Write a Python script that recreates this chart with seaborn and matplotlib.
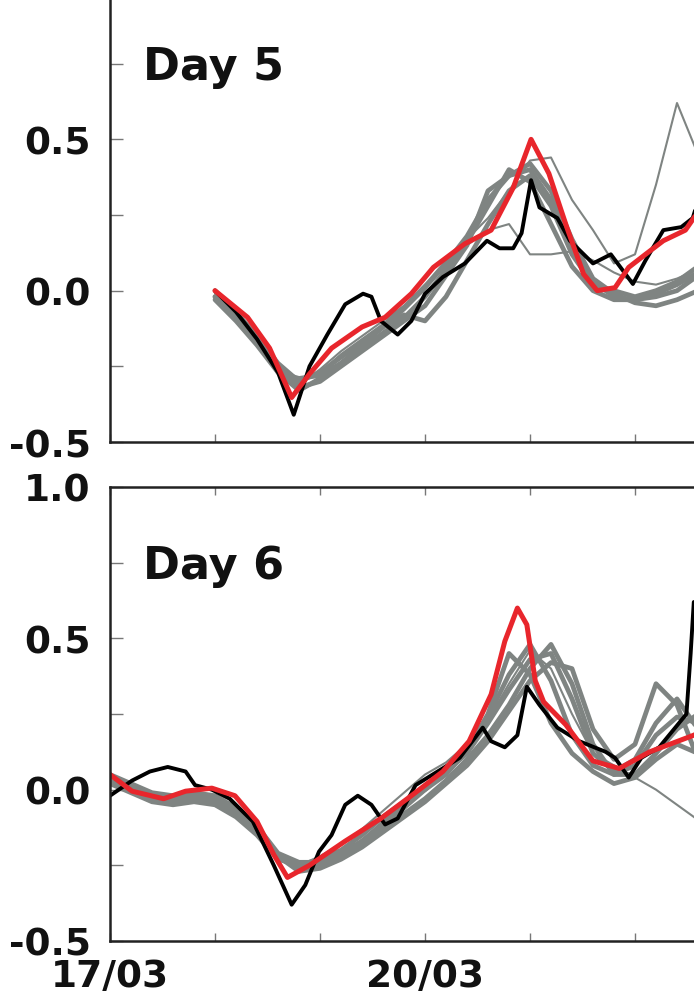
import numpy as np
import pandas as pd
import matplotlib
matplotlib.use("Agg")
import matplotlib.pyplot as plt
import seaborn as sns

# ---------------- data (x = days since 17/03 00:00) ----------------
xtick_pos = [0, 3]
xtick_labels = ["17/03", "20/03"]
ytick_vals = [-0.5, 0.0, 0.5, 1.0]
ytick_labels_top = ["-0.5", "0.0", "0.5", ""]
ytick_labels_bottom = ["-0.5", "0.0", "0.5", "1.0"]
panel_labels = ["Day 5", "Day 6"]

# ---- Day 5 panel ----
d5_grid = [1.0, 1.2, 1.4, 1.6, 1.8, 2.0, 2.2, 2.4, 2.6, 2.8, 3.0, 3.2,
           3.4, 3.6, 3.8, 4.0, 4.2, 4.4, 4.6, 4.8, 5.0, 5.2, 5.4, 5.6]
d5_ens_a = [0.0, -0.07, -0.15, -0.24, -0.30, -0.27, -0.22, -0.17, -0.12, -0.06, 0.01, 0.09,
            0.18, 0.30, 0.38, 0.40, 0.30, 0.15, 0.03, -0.02, -0.03, -0.02, 0.0, 0.05]
d5_ens_b = [-0.02, -0.09, -0.17, -0.26, -0.32, -0.30, -0.25, -0.20, -0.15, -0.10, -0.05, 0.05,
            0.15, 0.33, 0.38, 0.42, 0.33, 0.17, 0.04, -0.01, -0.04, -0.05, -0.03, 0.0]
d5_ens_c = [-0.03, -0.10, -0.18, -0.27, -0.29, -0.28, -0.24, -0.18, -0.12, -0.08, -0.10, -0.02,
            0.10, 0.22, 0.33, 0.38, 0.28, 0.12, 0.02, 0.0, -0.02, 0.0, 0.03, 0.08]
d5_ens_d = [-0.02, -0.08, -0.16, -0.27, -0.33, -0.29, -0.24, -0.19, -0.14, -0.09, -0.02, 0.07,
            0.16, 0.28, 0.40, 0.36, 0.22, 0.08, 0.0, -0.03, -0.03, -0.01, 0.02, 0.06]
d5_ens_e = [-0.01, -0.08, -0.16, -0.25, -0.31, -0.26, -0.20, -0.15, -0.10, -0.05, 0.02, 0.10,
            0.17, 0.24, 0.33, 0.43, 0.44, 0.30, 0.20, 0.09, 0.12, 0.35, 0.62, 0.45]
d5_ens_f = [0.0, -0.08, -0.16, -0.25, -0.30, -0.27, -0.21, -0.16, -0.11, -0.05, 0.02, 0.08,
            0.15, 0.20, 0.22, 0.12, 0.12, 0.13, 0.10, 0.06, 0.03, 0.02, 0.04, 0.07]
d5_red_x = [1.0, 1.31, 1.52, 1.73, 1.9, 2.11, 2.4, 2.62, 2.87, 3.08, 3.38, 3.63,
            3.84, 4.01, 4.18, 4.35, 4.51, 4.64, 4.81, 4.94, 5.10, 5.27, 5.48, 5.62]
d5_red_y = [0.0, -0.088, -0.19, -0.353, -0.275, -0.19, -0.12, -0.088, -0.01, 0.077, 0.155, 0.2,
            0.34, 0.5, 0.387, 0.21, 0.055, 0.0, 0.01, 0.077, 0.12, 0.165, 0.2, 0.27]
d5_obs_x = [1.0, 1.2, 1.4, 1.6, 1.75, 1.9, 2.07, 2.24, 2.41, 2.49, 2.58, 2.74, 2.87, 3.0,
            3.17, 3.38, 3.59, 3.71, 3.84, 3.92, 4.01, 4.09, 4.26, 4.38, 4.6, 4.77, 4.98,
            5.1, 5.27, 5.44, 5.55, 5.62]
d5_obs_y = [0.0, -0.07, -0.16, -0.27, -0.41, -0.25, -0.145, -0.045, -0.01, -0.02, -0.1, -0.145,
            -0.1, -0.01, 0.045, 0.09, 0.165, 0.14, 0.14, 0.19, 0.365, 0.275, 0.24, 0.165, 0.09,
            0.12, 0.022, 0.1, 0.2, 0.21, 0.24, 0.32]

# ---- Day 6 panel ----
d6_grid = [0.0, 0.2, 0.4, 0.6, 0.8, 1.0, 1.2, 1.4, 1.6, 1.8, 2.0, 2.2, 2.4, 2.6, 2.8,
           3.0, 3.2, 3.4, 3.6, 3.8, 4.0, 4.2, 4.4, 4.6, 4.8, 5.0, 5.2, 5.4, 5.6]
d6_ens_a = [0.03, 0.0, -0.03, -0.03, -0.01, -0.02, -0.06, -0.12, -0.21, -0.24, -0.24, -0.21, -0.17, -0.12, -0.06,
            0.0, 0.06, 0.12, 0.22, 0.33, 0.43, 0.45, 0.30, 0.12, 0.06, 0.10, 0.22, 0.30, 0.20]
d6_ens_b = [0.04, 0.01, -0.02, -0.04, -0.03, -0.04, -0.08, -0.14, -0.22, -0.26, -0.25, -0.22, -0.18, -0.13, -0.08,
            -0.03, 0.03, 0.10, 0.18, 0.28, 0.40, 0.48, 0.35, 0.15, 0.05, 0.05, 0.12, 0.20, 0.25]
d6_ens_c = [0.02, -0.01, -0.04, -0.05, -0.04, -0.05, -0.09, -0.15, -0.23, -0.25, -0.23, -0.20, -0.15, -0.09, -0.04,
            0.0, 0.05, 0.13, 0.25, 0.45, 0.38, 0.22, 0.12, 0.06, 0.02, 0.04, 0.10, 0.15, 0.12]
d6_ens_d = [0.05, 0.02, -0.01, -0.02, -0.02, -0.03, -0.07, -0.13, -0.22, -0.27, -0.26, -0.23, -0.19, -0.14, -0.09,
            -0.04, 0.02, 0.08, 0.16, 0.26, 0.36, 0.42, 0.40, 0.20, 0.10, 0.15, 0.35, 0.28, 0.10]
d6_ens_e = [0.03, 0.0, -0.03, -0.04, -0.03, -0.04, -0.08, -0.14, -0.22, -0.25, -0.22, -0.18, -0.13, -0.07, -0.01,
            0.05, 0.09, 0.15, 0.23, 0.35, 0.46, 0.40, 0.25, 0.12, 0.08, 0.04, 0.0, -0.05, -0.10]
d6_ens_f = [0.04, 0.01, -0.02, -0.03, -0.02, -0.03, -0.07, -0.13, -0.22, -0.26, -0.25, -0.22, -0.17, -0.11, -0.05,
            0.01, 0.07, 0.14, 0.24, 0.38, 0.48, 0.36, 0.18, 0.08, 0.05, 0.08, 0.18, 0.24, 0.22]
d6_red_x = [0.0, 0.21, 0.51, 0.72, 0.97, 1.19, 1.40, 1.56, 1.69, 1.90, 2.24, 2.58, 2.87, 3.17,
            3.42, 3.63, 3.76, 3.88, 3.97, 4.05, 4.13, 4.34, 4.60, 4.85, 5.14, 5.56, 5.62]
d6_red_y = [0.05, -0.005, -0.03, -0.005, 0.005, -0.02, -0.105, -0.215, -0.29, -0.25, -0.17, -0.095, -0.02, 0.06,
            0.16, 0.315, 0.49, 0.60, 0.545, 0.36, 0.29, 0.215, 0.095, 0.07, 0.125, 0.18, 0.19]
d6_obs_x = [0.0, 0.21, 0.38, 0.55, 0.72, 0.81, 0.97, 1.14, 1.36, 1.56, 1.73, 1.86, 1.99, 2.11,
            2.24, 2.36, 2.49, 2.62, 2.74, 2.91, 3.12, 3.33, 3.55, 3.63, 3.76, 3.88, 3.97, 4.09,
            4.26, 4.47, 4.72, 4.81, 4.94, 5.06, 5.23, 5.49, 5.53, 5.56]
d6_obs_y = [-0.02, 0.03, 0.06, 0.075, 0.06, 0.015, 0.0, -0.03, -0.105, -0.25, -0.38, -0.315, -0.205, -0.15,
            -0.05, -0.02, -0.05, -0.115, -0.095, 0.015, 0.06, 0.105, 0.205, 0.16, 0.14, 0.18, 0.34, 0.28,
            0.205, 0.16, 0.125, 0.105, 0.04, 0.105, 0.14, 0.25, 0.45, 0.62]

# ---------------- style ----------------
sns.set_theme(style="white")
plt.rcParams["font.family"] = ["DejaVu Sans"]
plt.rcParams["font.weight"] = "bold"
plt.rcParams["axes.unicode_minus"] = False

RED = "#e8262c"
GRAY = "#7f8482"
FS_LABEL = 32
FS_TICK = 27

W, H = 694, 995
fig = plt.figure(figsize=(W / 100, H / 100), dpi=100)
fig.patch.set_facecolor("white")
ax_left = 110 / W
ax_w = 735 / W
ax_h = 454 / H
ax1 = fig.add_axes([ax_left, (H - 443) / H, ax_w, ax_h])
ax2 = fig.add_axes([ax_left, (H - 942) / H, ax_w, ax_h])


def members_df(grid, members):
    rows = []
    for i, m in enumerate(members):
        for t, v in zip(grid, m):
            rows.append((i, t, v))
    return pd.DataFrame(rows, columns=["member", "day", "value"])


def draw(ax, grid, thick, thin, red_x, red_y, obs_x, obs_y, label, ylabels, show_xlabels):
    kw = dict(estimator=None, sort=False, ax=ax, solid_joinstyle="round", solid_capstyle="round")
    sns.lineplot(data=members_df(grid, thick), x="day", y="value", units="member",
                 color=GRAY, lw=3.4, legend=False, **kw)
    sns.lineplot(data=members_df(grid, thin), x="day", y="value", units="member",
                 color=GRAY, lw=1.5, legend=False, **kw)
    sns.lineplot(x=obs_x, y=obs_y, color="black", lw=2.8, **kw)
    sns.lineplot(x=red_x, y=red_y, color=RED, lw=3.6, **kw)
    ax.set_xlim(0, 7)
    ax.set_ylim(-0.5, 1.0)
    ax.set_xlabel("")
    ax.set_ylabel("")
    ax.set_xticks(xtick_pos)
    ax.set_xticklabels(xtick_labels)
    ax.set_xticks(range(0, 8), minor=True)
    ax.set_yticks(ytick_vals)
    ax.set_yticklabels(ylabels)
    ax.set_yticks([-0.25, 0.25, 0.75], minor=True)
    ax.tick_params(axis="x", which="both", direction="in", top=True, bottom=True,
                   length=6, width=1, color="#777777", pad=12, labelsize=FS_TICK,
                   labelbottom=show_xlabels)
    ax.tick_params(axis="y", which="both", direction="in", left=True, right=True,
                   length=9, width=1, color="#777777", pad=14, labelsize=FS_TICK)
    for lab in ax.get_xticklabels() + ax.get_yticklabels():
        lab.set_fontweight("bold")
        lab.set_color("#111111")
    for s in ax.spines.values():
        s.set_linewidth(1.8)
        s.set_color("#222222")
    ax.text(0.045, 0.828, label, transform=ax.transAxes, ha="left", va="center",
            fontsize=FS_LABEL, fontweight="bold", color="#111111")


draw(ax1, d5_grid, [d5_ens_a, d5_ens_b, d5_ens_c, d5_ens_d], [d5_ens_e, d5_ens_f],
     d5_red_x, d5_red_y, d5_obs_x, d5_obs_y, panel_labels[0], ytick_labels_top, False)
draw(ax2, d6_grid, [d6_ens_a, d6_ens_b, d6_ens_c, d6_ens_d, d6_ens_f], [d6_ens_e],
     d6_red_x, d6_red_y, d6_obs_x, d6_obs_y, panel_labels[1], ytick_labels_bottom, True)

fig.savefig("out.png", dpi=100)
